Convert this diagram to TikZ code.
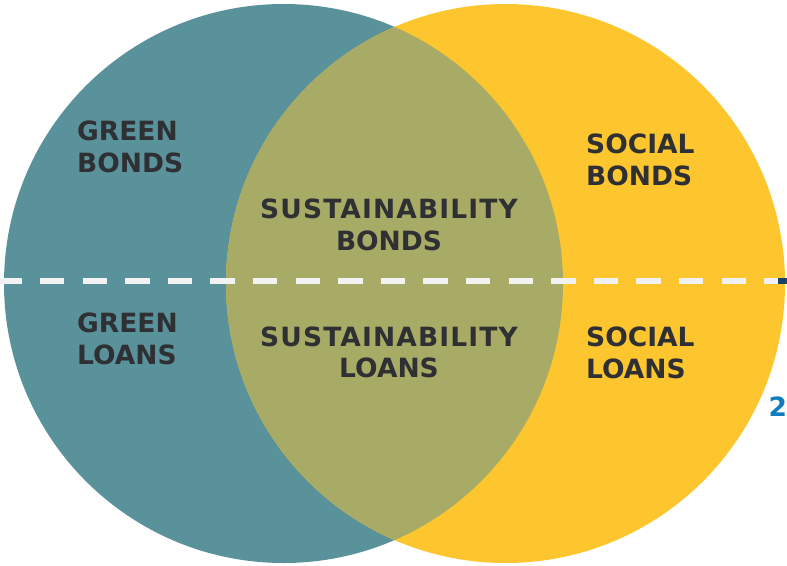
\documentclass[tikz,border=0pt]{standalone}
\usepackage{fontspec}
\setmainfont{DejaVu Sans}
\definecolor{tealc}{RGB}{90,146,155}
\definecolor{yellowc}{RGB}{253,198,47}
\definecolor{olivec}{RGB}{168,171,101}
\definecolor{textc}{RGB}{46,48,51}
\definecolor{dashc}{RGB}{242,242,242}
\definecolor{navyc}{RGB}{22,65,105}
\definecolor{bluec}{RGB}{18,125,190}
\newcommand{\widesp}[1]{{\addfontfeatures{LetterSpace=4.3}#1}}
\tikzset{
  lbl/.style={inner sep=0pt, font=\bfseries\fontsize{26.5}{31.5}\selectfont, text=textc},
  lblL/.style={lbl, anchor=north west, align=left},
  lblC/.style={lbl, anchor=north, align=center},
}
\begin{document}
\begin{tikzpicture}[x=1pt,y=-1pt]
\useasboundingbox (0,0) rectangle (787,565);
\fill[tealc] (283.5,283.5) circle[radius=279.5];
\fill[yellowc] (505.5,283.5) circle[radius=279.5];
\begin{scope}
  \clip (283.5,283.5) circle[radius=279.5];
  \fill[olivec] (505.5,283.5) circle[radius=279.5];
\end{scope}
\draw[dashc, line width=6pt, dash pattern=on 24.3pt off 18.3pt, dash phase=2.6pt] (0,280.6) -- (787,280.6);
\fill[navyc] (778,277.6) rectangle (787,283.6);
\node[lblL] (gb) at (77,121) {GREEN\\BONDS};
\node[lblC] (sb) at (389,198.7) {\widesp{SUSTAINABILITY}\\BONDS};
\node[lblL] (ob) at (586,133.7) {SOCIAL\\BONDS};
\node[lblL] (gl) at (77,313) {GREEN\\LOANS};
\node[lblC] (sl) at (389,326.4) {\widesp{SUSTAINABILITY}\\LOANS};
\node[lblL] (ol) at (586,327) {SOCIAL\\LOANS};
\node[lbl, text=bluec, anchor=base west] (num) at (768.5,416.7) {2};
\end{tikzpicture}
\end{document}
